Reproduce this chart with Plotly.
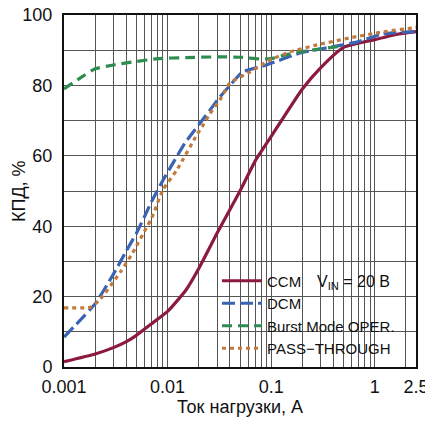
import plotly.graph_objects as go
import numpy as np

# --- data ---
ccm_x = [0.001, 0.002, 0.003, 0.004, 0.005, 0.007, 0.01, 0.015, 0.02, 0.03, 0.05, 0.07, 0.1, 0.2, 0.3, 0.5, 1.0, 1.7, 2.5]
ccm_y = [1.5, 3.7, 5.5, 7.2, 9.0, 12.3, 15.8, 21.8, 28.0, 38.0, 50.0, 58.5, 65.5, 79.0, 85.0, 90.8, 93.0, 94.6, 95.3]

dcm_x = [0.001, 0.002, 0.003, 0.004, 0.005, 0.006, 0.007, 0.009, 0.0113, 0.0147, 0.0206, 0.032, 0.04, 0.053, 0.09, 0.19, 0.4, 0.67, 1.2, 2.5]
dcm_y = [8.5, 18.0, 26.4, 33.0, 38.0, 42.8, 47.0, 53.0, 58.0, 63.6, 69.3, 76.7, 80.0, 83.8, 85.8, 89.2, 91.0, 92.3, 94.6, 95.3]

burst_x = [0.001, 0.0015, 0.002, 0.003, 0.005, 0.008, 0.015, 0.03, 0.05, 0.08, 0.1, 0.13, 0.2, 0.3, 0.5]
burst_y = [79.0, 82.5, 84.7, 85.8, 86.8, 87.6, 87.9, 88.1, 88.0, 87.5, 87.6, 88.5, 89.6, 90.4, 91.2]

pass_x = [0.001, 0.0018, 0.0022, 0.0035, 0.0046, 0.0063, 0.007, 0.009, 0.0123, 0.0192, 0.022, 0.0257, 0.032, 0.04, 0.0624, 0.097, 0.151, 0.277, 0.575, 1.2, 2.3, 2.5]
pass_y = [16.8, 17.0, 19.0, 27.0, 32.4, 39.8, 42.2, 50.3, 56.0, 66.0, 68.7, 72.0, 75.9, 80.7, 83.8, 87.2, 89.5, 91.5, 93.5, 95.2, 96.3, 96.5]

x_tick_vals = [0.001, 0.01, 0.1, 1, 2.5]
x_tick_text = ["0.001", "0.01", "0.1", "1", "2.5"]
y_tick_vals = [0, 20, 40, 60, 80, 100]
x_minor = [m * 10.0 ** e for e in (-3, -2, -1, 0) for m in range(1, 10) if m * 10.0 ** e <= 2.5]

series_names = ["CCM", "DCM", "Burst Mode OPER.", "PASS\u2212THROUGH"]

GRID = "#555555"
FONT = "Liberation Sans, Arial, sans-serif"

# the page body has an 8px margin: lay out in page pixels, then shift
OFF = 8
FW, FH = 433 - OFF, 423 - OFF
L, R, T, B = 64 - OFF, 416 - OFF, 15 - OFF, 367 - OFF
W, H = R - L, B - T


def px(x):
    return (x - OFF - L) / W


def py(y):
    return (B - (y - OFF)) / H


fig = go.Figure()
fig.add_trace(go.Scatter(x=ccm_x, y=ccm_y, mode="lines", name=series_names[0],
                         line=dict(color="#8c1a3c", width=3.2, shape="spline", smoothing=0.5)))
fig.add_trace(go.Scatter(x=dcm_x, y=dcm_y, mode="lines", name=series_names[1],
                         line=dict(color="#3a63b4", width=3.2, dash="13px,5px", shape="spline", smoothing=0.5)))
fig.add_trace(go.Scatter(x=burst_x, y=burst_y, mode="lines", name=series_names[2],
                         line=dict(color="#2f8c50", width=3.2, dash="10px,6px", shape="spline", smoothing=0.5)))
fig.add_trace(go.Scatter(x=pass_x, y=pass_y, mode="lines", name=series_names[3],
                         line=dict(color="#c27a3c", width=3.2, dash="4px,4px", shape="spline", smoothing=0.5)))

# white box behind the legend (covers grid)
fig.add_shape(type="rect", xref="paper", yref="paper",
              x0=px(195), x1=px(410), y0=py(359), y1=py(263),
              fillcolor="white", line=dict(width=0), layer="between")

fig.add_annotation(xref="paper", yref="paper", x=px(315), y=py(282),
                   xanchor="left", yanchor="middle", showarrow=False,
                   text="V<sub>IN</sub> = 20 B",
                   font=dict(family=FONT, size=16, color="#111"))

# y-axis title
fig.add_annotation(xref="paper", yref="paper", x=px(19), y=py(191),
                   xanchor="center", yanchor="middle", showarrow=False,
                   text="КПД, %", textangle=-90,
                   font=dict(family=FONT, size=18, color="#111"))

fig.update_layout(
    width=FW, height=FH,
    margin=dict(l=L, r=FW - R, t=T, b=FH - B),
    paper_bgcolor="white", plot_bgcolor="white",
    font=dict(family=FONT, size=18, color="#111"),
    showlegend=True,
    legend=dict(x=px(217), y=py(264.5), xanchor="left", yanchor="top",
                bgcolor="rgba(0,0,0,0)", borderwidth=0,
                font=dict(family=FONT, size=15, color="#111"),
                itemwidth=40),
)
fig.update_xaxes(type="log", range=[-3, np.log10(2.5)], automargin=False,
                 tickvals=x_tick_vals, ticktext=x_tick_text, ticklabeloverflow="allow",
                 showgrid=True, gridcolor=GRID, gridwidth=1.2,
                 minor=dict(tickvals=x_minor, showgrid=True, gridcolor=GRID, gridwidth=1.2, ticks=""),
                 showline=True, linecolor="#111", linewidth=2, mirror=True,
                 ticks="", ticklabelstandoff=2, tickfont=dict(size=18),
                 title=dict(text="Ток нагрузки, А", font=dict(size=18), standoff=2))
fig.update_yaxes(range=[0, 100], tickvals=y_tick_vals, automargin=False, ticklabeloverflow="allow",
                 showgrid=True, gridcolor=GRID, gridwidth=1.2,
                 minor=dict(dtick=10, showgrid=True, gridcolor=GRID, gridwidth=1.2, ticks=""),
                 showline=True, linecolor="#111", linewidth=2, mirror=True,
                 ticks="", ticklabelstandoff=6, tickfont=dict(size=18), zeroline=False)

fig.write_html("out.html")
